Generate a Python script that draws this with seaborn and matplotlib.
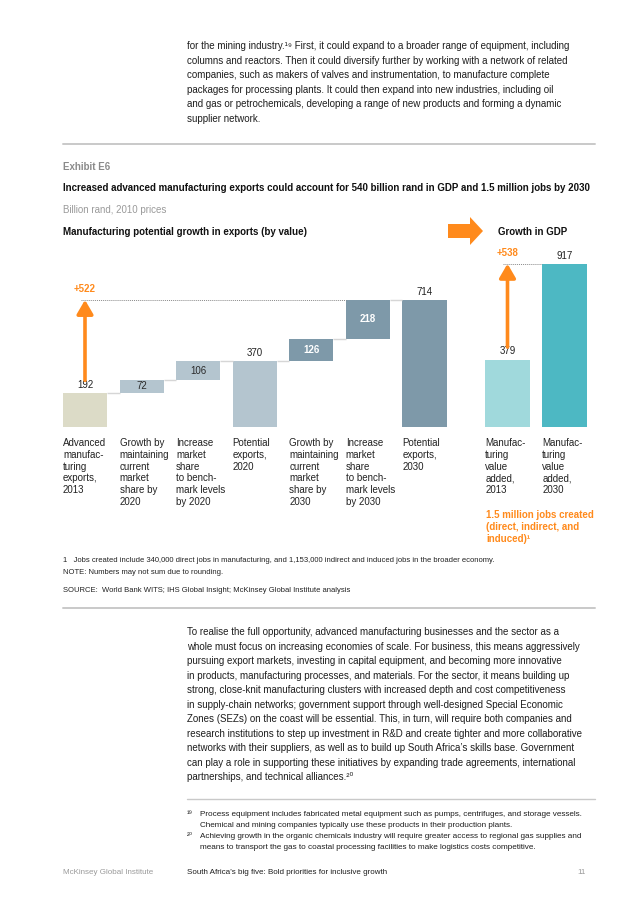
import numpy as np
import pandas as pd
import matplotlib
matplotlib.use("Agg")
import matplotlib.pyplot as plt
from matplotlib.patches import Polygon
import seaborn as sns

# ---------------- data ----------------
left_keys = ["exp2013", "grow2020", "share2020", "exp2020", "grow2030", "share2030", "exp2030"]
left_values = [192, 72, 106, 370, 126, 218, 714]
left_is_total = [True, False, False, True, False, False, True]
left_labels = [
    "Advanced\nmanufac-\nturing\nexports,\n2013",
    "Growth by\nmaintaining\ncurrent\nmarket\nshare by\n2020",
    "Increase\nmarket\nshare\nto bench-\nmark levels\nby 2020",
    "Potential\nexports,\n2020",
    "Growth by\nmaintaining\ncurrent\nmarket\nshare by\n2030",
    "Increase\nmarket\nshare\nto bench-\nmark levels\nby 2030",
    "Potential\nexports,\n2030",
]
left_colors = ["#dcdbc7", "#b4c5cf", "#b4c5cf", "#b4c5cf", "#7e99a9", "#7e99a9", "#7e99a9"]

right_keys = ["gdp2013", "gdp2030"]
right_values = [379, 917]
right_labels = [
    "Manufac-\nturing\nvalue\nadded,\n2013",
    "Manufac-\nturing\nvalue\nadded,\n2030",
]
right_colors = ["#a0d9dc", "#4db8c3"]

export_growth_label = "+522"
gdp_growth_label = "+538"

ORANGE = "#ff8a1c"
GRAY_RULE = "#c9c9c9"

# ---------------- setup ----------------
sns.set_theme(style="white")
plt.rcParams["font.family"] = ["Liberation Sans", "DejaVu Sans"]

W, H = 636, 900
fig = plt.figure(figsize=(W / 100, H / 100), dpi=100)
fig.patch.set_facecolor("white")


def fx(x):
    return x / W


def fy(y):
    return 1 - y / H


def ftext(x, y, s, **kw):
    kw.setdefault("va", "center")
    kw.setdefault("ha", "left")
    fig.text(fx(x), fy(y), s, **kw)


def frule(x0, x1, y, lw=1.4, color=GRAY_RULE):
    fig.add_artist(plt.Line2D([fx(x0), fx(x1)], [fy(y), fy(y)], color=color, lw=lw,
                              transform=fig.transFigure))


BODY = 7.07
BODYC = "#1e1e1e"

# ---------------- top paragraph ----------------
top_lines = [
    "for the mining industry.\u00b9\u2079 First, it could expand to a broader range of equipment, including",
    "columns and reactors. Then it could diversify further by working with a network of related",
    "companies, such as makers of valves and instrumentation, to manufacture complete",
    "packages for processing plants. It could then expand into new industries, including oil",
    "and gas or petrochemicals, developing a range of new products and forming a dynamic",
    "supplier network.",
]
for k, line in enumerate(top_lines):
    ftext(187, 46 + 14.6 * k, line, fontsize=BODY, color=BODYC)

frule(63, 595, 144)

CH = 7.05
ftext(63, 167, "Exhibit E6", fontsize=CH, color="#8a8a8a", fontweight="bold")
ftext(63, 188, "Increased advanced manufacturing exports could account for 540 billion rand in GDP and 1.5 million jobs by 2030",
      fontsize=CH, color="#111111", fontweight="bold")
ftext(63, 210, "Billion rand, 2010 prices", fontsize=CH, color="#9a9a9a")
ftext(63, 232, "Manufacturing potential growth in exports (by value)", fontsize=CH, color="#111111", fontweight="bold")
ftext(498, 232, "Growth in GDP", fontsize=CH, color="#111111", fontweight="bold")

# big orange block arrow
arrow_px = [(448, 224), (470, 224), (470, 217), (483, 231), (470, 245), (470, 238), (448, 238)]
fig.add_artist(Polygon([(fx(x), fy(y)) for x, y in arrow_px], closed=True, facecolor=ORANGE,
                       edgecolor="none", transform=fig.transFigure))

# ---------------- chart axes ----------------
PX_PER_UNIT = 0.178
YMAX = 1000
axL = fig.add_axes([fx(56.7), fy(427), (452.8 - 56.7) / W, YMAX * PX_PER_UNIT / H])
axR = fig.add_axes([fx(479), fy(427), 114 / W, YMAX * PX_PER_UNIT / H])

# waterfall bases / tops
bases, tops = [], []
running = 0
for v, tot in zip(left_values, left_is_total):
    if tot:
        bases.append(0)
        tops.append(v)
        running = v
    else:
        bases.append(running)
        running = running + v
        tops.append(running)

BW = 0.78
dfL = pd.DataFrame({"key": left_keys, "top": tops})
sns.barplot(data=dfL, x="key", y="top", hue="key", palette=left_colors, order=left_keys,
            hue_order=left_keys, width=BW, saturation=1, linewidth=0, legend=False, ax=axL)
for p, b, t in zip(axL.patches, bases, tops):
    p.set_y(b)
    p.set_height(t - b)

dfR = pd.DataFrame({"key": right_keys, "val": right_values})
sns.barplot(data=dfR, x="key", y="val", hue="key", palette=right_colors, order=right_keys,
            hue_order=right_keys, width=BW, saturation=1, linewidth=0, legend=False, ax=axR)

for ax, n in ((axL, len(left_keys)), (axR, len(right_keys))):
    ax.set_xlim(-0.5, n - 0.5)
    ax.set_ylim(0, YMAX)
    ax.axis("off")

VAL = 7.0
# connectors
for i in range(len(left_keys) - 1):
    axL.hlines(tops[i], i + BW / 2, i + 1 - BW / 2, color="#d6d6d6", lw=1.0, zorder=1)

# labels
for i, (v, tot, b, t) in enumerate(zip(left_values, left_is_total, bases, tops)):
    if tot:
        axL.annotate(str(v), (i, t), xytext=(0, 2.2), textcoords="offset points",
                     ha="center", va="bottom", fontsize=VAL, color="#222222")
    else:
        dark = i >= 4
        axL.text(i, (b + t) / 2, str(v), ha="center", va="center", fontsize=VAL,
                 color="white" if dark else "#2a2a2a", fontweight="bold" if dark else "normal")
for i, v in enumerate(right_values):
    axR.annotate(str(v), (i, v), xytext=(0, 2.2), textcoords="offset points",
                 ha="center", va="bottom", fontsize=VAL, color="#222222")

# dotted reference lines and growth arrows
axL.hlines(tops[-1], -0.07, 5 - BW / 2, color="#8a8a8a", lw=0.7, linestyles=(0, (1, 1)), zorder=1)
axR.hlines(right_values[1], -0.08, 1 - BW / 2, color="#8a8a8a", lw=0.7, linestyles=(0, (1, 1)), zorder=1)

aprops = dict(arrowstyle="-|>,head_length=0.6,head_width=0.35", lw=2.6, color=ORANGE,
              shrinkA=0, shrinkB=0, mutation_scale=14)
axL.annotate("", xy=(0, tops[-1]), xytext=(0, 262), arrowprops=aprops)
axR.annotate("", xy=(0, right_values[1]), xytext=(0, 449), arrowprops=aprops)
axL.text(0, (427 - 289) / PX_PER_UNIT, export_growth_label, ha="center", va="center",
         fontsize=VAL, color=ORANGE, fontweight="bold")
axR.text(0, (427 - 253) / PX_PER_UNIT, gdp_growth_label, ha="center", va="center",
         fontsize=VAL, color=ORANGE, fontweight="bold")

# category labels (left aligned at bar left edges)
LBL = 7.05
LSP = 11.8


def cat_labels(ax, labels):
    for i, lab in enumerate(labels):
        for k, line in enumerate(lab.split("\n")):
            ypx = 443 + LSP * k
            ax.text(i - BW / 2, (427 - ypx) / PX_PER_UNIT, line, ha="left", va="center",
                    fontsize=LBL, color="#222222", clip_on=False)


cat_labels(axL, left_labels)
cat_labels(axR, right_labels)

jobs_lines = ["1.5 million jobs created", "(direct, indirect, and", "induced)\u00b9"]
for k, line in enumerate(jobs_lines):
    ftext(486, 515 + 12 * k, line, fontsize=LBL, color=ORANGE, fontweight="bold")

SM = 5.5
ftext(63, 561, "1   Jobs created include 340,000 direct jobs in manufacturing, and 1,153,000 indirect and induced jobs in the broader economy.",
      fontsize=SM, color="#222222")
ftext(63, 572, "NOTE: Numbers may not sum due to rounding.", fontsize=SM, color="#222222")
ftext(63, 591, "SOURCE:  World Bank WITS; IHS Global Insight; McKinsey Global Institute analysis",
      fontsize=SM, color="#222222")
frule(63, 595, 608)

# ---------------- bottom paragraph ----------------
bottom_lines = [
    "To realise the full opportunity, advanced manufacturing businesses and the sector as a",
    "whole must focus on increasing economies of scale. For business, this means aggressively",
    "pursuing export markets, investing in capital equipment, and becoming more innovative",
    "in products, manufacturing processes, and materials. For the sector, it means building up",
    "strong, close-knit manufacturing clusters with increased depth and cost competitiveness",
    "in supply-chain networks; government support through well-designed Special Economic",
    "Zones (SEZs) on the coast will be essential. This, in turn, will require both companies and",
    "research institutions to step up investment in R&D and create tighter and more collaborative",
    "networks with their suppliers, as well as to build up South Africa\u2019s skills base. Government",
    "can play a role in supporting these initiatives by expanding trade agreements, international",
    "partnerships, and technical alliances.\u00b2\u2070",
]
for k, line in enumerate(bottom_lines):
    ftext(187, 632 + 14.55 * k, line, fontsize=BODY, color=BODYC)

frule(187, 595, 799, lw=1.0)

FN = 5.85
fn_rows = [
    ("\u00b9\u2079", "Process equipment includes fabricated metal equipment such as pumps, centrifuges, and storage vessels."),
    ("", "Chemical and mining companies typically use these products in their production plants."),
    ("\u00b2\u2070", "Achieving growth in the organic chemicals industry will require greater access to regional gas supplies and"),
    ("", "means to transport the gas to coastal processing facilities to make logistics costs competitive."),
]
for k, (num, txt) in enumerate(fn_rows):
    y = 814 + 11.3 * k
    if num:
        ftext(187, y, num, fontsize=FN, color=BODYC)
    ftext(200, y, txt, fontsize=FN, color=BODYC)

ftext(63, 873, "McKinsey Global Institute", fontsize=5.8, color="#9a9a9a")
ftext(187, 873, "South Africa\u2019s big five: Bold priorities for inclusive growth", fontsize=5.8, color="#1e1e1e")
ftext(586, 873, "11", fontsize=5.8, color="#9a9a9a", ha="right")

fig.savefig("out.png", dpi=100, facecolor="white")
